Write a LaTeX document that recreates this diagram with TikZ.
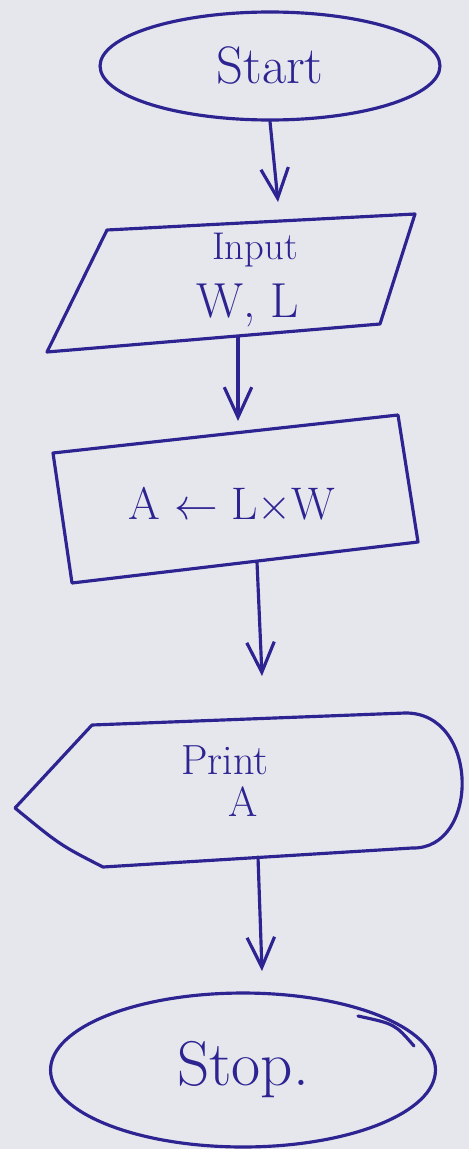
\documentclass[tikz,border=0pt]{standalone}
\usetikzlibrary{arrows.meta,shapes.geometric}
\definecolor{ink}{RGB}{45,35,145}
\definecolor{paper}{RGB}{229,231,237}
\tikzset{
  pen/.style={draw=ink, line width=1.8pt, line join=round, line cap=round},
  flow/.style={pen, -{Straight Barb[length=0.6cm,width=0.55cm,line width=1.8pt]}},
  txt/.style={text=ink, inner sep=1pt},
  term/.style={pen, ellipse, inner sep=0pt, text=ink}
}
\begin{document}
\begin{tikzpicture}[x=0.02cm,y=-0.02cm]
\fill[paper] (0,0) rectangle (469,1149);
\useasboundingbox (0,0) rectangle (469,1149);

\node[term, minimum width=6.8cm, minimum height=2.16cm,
  font=\fontsize{30}{36}\selectfont] (start) at (270,66) {Start};

\draw[pen] (107,230) coordinate (inp-tl) -- (415,214) coordinate (inp-tr)
    -- (380,324) coordinate (inp-br) -- (47,352) coordinate (inp-bl) -- cycle;
\node[txt, font=\fontsize{22}{26}\selectfont] (inp) at (255,250) {Input};
\node[txt, font=\fontsize{28}{32}\selectfont] (wl) at (248,305) {W, L};

\draw[pen] (53,453) coordinate (calc-tl) -- (398,415) coordinate (calc-tr)
    -- (418,542) coordinate (calc-br) -- (72,583) coordinate (calc-bl) -- cycle;
\node[txt, font=\fontsize{26}{30}\selectfont] (calc) at (232,505) {A $\leftarrow$ L$\times$W};

\draw[pen] (15,808) coordinate (out-l) -- (92,725) coordinate (out-tl)
    -- (405,713) coordinate (out-tr)
    .. controls (480,712) and (480,850) .. (412,848) coordinate (out-br)
    -- (103,867) coordinate (out-bl)
    .. controls (60,845) .. (out-l);
\node[txt, font=\fontsize{24}{28}\selectfont] (prt) at (225,760) {Print};
\node[txt, font=\fontsize{24}{28}\selectfont] (prta) at (243,802) {A};

\node[term, minimum width=7.7cm, minimum height=3.08cm,
  font=\fontsize{36}{42}\selectfont] (stop) at (243,1070) {Stop.};
\draw[pen] (358,1016) .. controls (395,1024) .. (414,1046);

\path (278,202) coordinate (inp-in);
\path (238,337) coordinate (inp-out) (238,421) coordinate (calc-in);
\path (257,562) coordinate (calc-out) (262,676) coordinate (out-in);
\path (258,857) coordinate (out-out) (262,971) coordinate (stop-in);

\draw[flow] (start.south) -- (inp-in);
\draw[flow] (inp-out) -- (calc-in);
\draw[flow] (calc-out) -- (out-in);
\draw[flow] (out-out) -- (stop-in);

\end{tikzpicture}
\end{document}
